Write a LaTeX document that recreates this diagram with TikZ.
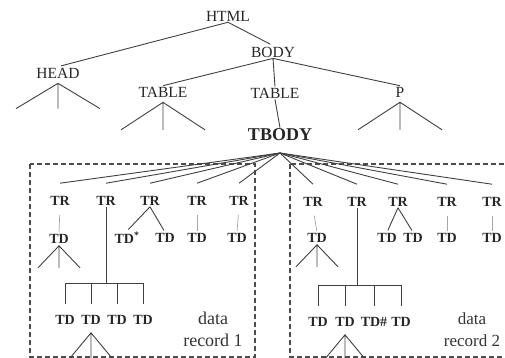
\documentclass[tikz,border=0pt]{standalone}
\usepackage{fontspec}
\setmainfont{Liberation Serif}

\begin{document}
\begin{tikzpicture}[
    x=1pt, y=-1pt,
    tag/.style={inner sep=1pt, text=black!85, font=\fontsize{15.5}{18}\selectfont},
    cell/.style={inner sep=1pt, text=black!85, font=\fontsize{14}{16}\selectfont\bfseries},
    branch/.style={draw=black!75, line width=0.9pt},
    stem/.style={draw=black!35, line width=0.7pt, shorten <=8pt, shorten >=1pt},
    record/.style={draw=black!70, line width=1.3pt, dash pattern=on 5pt off 3pt},
    prongs/.pic={\draw[branch] (-21,22) -- (0,0) -- (21,22) (0,0) -- (0,22);}
]
\useasboundingbox (0,0) rectangle (505,358);
\clip (0,0) rectangle (505,358);

% Data record frames
\draw[record] (30,164) rectangle (255,357);
\draw[record] (290,164) rectangle (520,357);

% Upper part of the tag tree
\node[tag] (html) at (228,16) {HTML};
\node[tag] (body) at (273,52) {BODY};
\node[tag] (head) at (58,73) {HEAD};
\node[tag] (tableA) at (163,92) {TABLE};
\node[tag] (tableB) at (275,93) {TABLE};
\node[tag] (p) at (400,92) {P};
\node[inner sep=1pt, text=black!85, font=\fontsize{18}{20}\selectfont\bfseries] (tbody) at (280,135) {TBODY};
\coordinate (fan) at (280,153);

\draw[branch, shorten >=3pt] (html.south) -- (head.north);
\draw[branch, shorten >=3pt] (html.south) -- (body.north);
\draw[branch] (tableA.north) -- (body.south) -- (p.north) (body.south) -- (tableB.north);
\draw[branch] (tableB.south) -- (tbody.north);

% Sub-trees left out
\pic[xscale=2, yscale=1.15] at ([yshift=-4pt]head.south) {prongs};
\pic[xscale=2, yscale=1.25] at ([yshift=-4pt]tableA.south) {prongs};
\pic[xscale=2, yscale=1.25] at ([yshift=-4pt]p.south) {prongs};

% Rows of the table
\foreach \n/\x in {1/60, 2/106, 3/150, 4/197, 5/239}
    \node[cell] (trA\n) at (\x,201) {TR};
\foreach \n/\x in {1/313, 2/357, 3/398, 4/447, 5/492}
    \node[cell] (trB\n) at (\x,202) {TR};
\foreach \n in {1,...,5} {
    \draw[branch] (fan) -- ([yshift=12pt]trA\n.north);
    \draw[branch] (fan) -- ([yshift=12pt]trB\n.north);
}

% Cells of data record 1
\node[cell] (tdA1) at (59,239) {TD};
\node[cell] (tdA3l) at (127,238) {TD\textsuperscript{*}};
\node[cell] (tdA3r) at (165,238) {TD};
\node[cell] (tdA4) at (197,238) {TD};
\node[cell] (tdA5) at (237,238) {TD};
\draw[stem] (trA1.south) -- (tdA1.north);
\draw[stem] (trA4.south) -- (tdA4.north);
\draw[stem] (trA5.south) -- (tdA5.north);
\draw[branch, shorten >=2pt] (trA3.south) -- (tdA3l.north);
\draw[branch, shorten >=2pt] (trA3.south) -- (tdA3r.north);
\pic at ([yshift=-1pt]tdA1.south) {prongs};

\foreach \n/\x in {6/65, 7/91, 8/117, 9/143}
    \node[cell] (tdA\n) at (\x,320) {TD};
\coordinate (barA) at (104,283);
\draw[branch] (trA2.south) -- (trA2.south |- barA);
\draw[branch] (tdA6.north |- barA) -- (tdA9.north |- barA);
\foreach \n in {6,...,9}
    \draw[branch] (tdA\n.north |- barA) -- ([yshift=10pt]tdA\n.north);
\pic[yscale=1.15] at ([yshift=-7pt]tdA7.south) {prongs};

\node[align=center, text=black!80, font=\fontsize{18}{22}\selectfont] (recA) at (213,329) {data\\record 1};

% Cells of data record 2
\node[cell] (tdB1) at (317,238) {TD};
\node[cell] (tdB3l) at (387,238) {TD};
\node[cell] (tdB3r) at (413,238) {TD};
\node[cell] (tdB4) at (447,238) {TD};
\node[cell] (tdB5) at (492,238) {TD};
\draw[stem] (trB1.south) -- (tdB1.north);
\draw[stem] (trB4.south) -- (tdB4.north);
\draw[stem] (trB5.south) -- (tdB5.north);
\draw[branch, shorten >=2pt] (trB3.south) -- (tdB3l.north);
\draw[branch, shorten >=2pt] (trB3.south) -- (tdB3r.north);
\pic at ([yshift=-1pt]tdB1.south) {prongs};

\foreach \n/\x/\t in {6/318/TD, 7/345/TD, 8/374/TD\#, 9/401/TD}
    \node[cell] (tdB\n) at (\x,322) {\t};
\coordinate (barB) at (357,285);
\draw[branch] (trB2.south) -- (trB2.south |- barB);
\draw[branch] (tdB6.north |- barB) -- (tdB9.north |- barB);
\foreach \n in {6,...,9}
    \draw[branch] (tdB\n.north |- barB) -- ([yshift=10pt]tdB\n.north);
\pic[yscale=1.15] at ([yshift=-7pt]tdB7.south) {prongs};

\node[align=center, text=black!80, font=\fontsize{17}{22}\selectfont] (recB) at (472,330) {data\\record 2};

\end{tikzpicture}
\end{document}
